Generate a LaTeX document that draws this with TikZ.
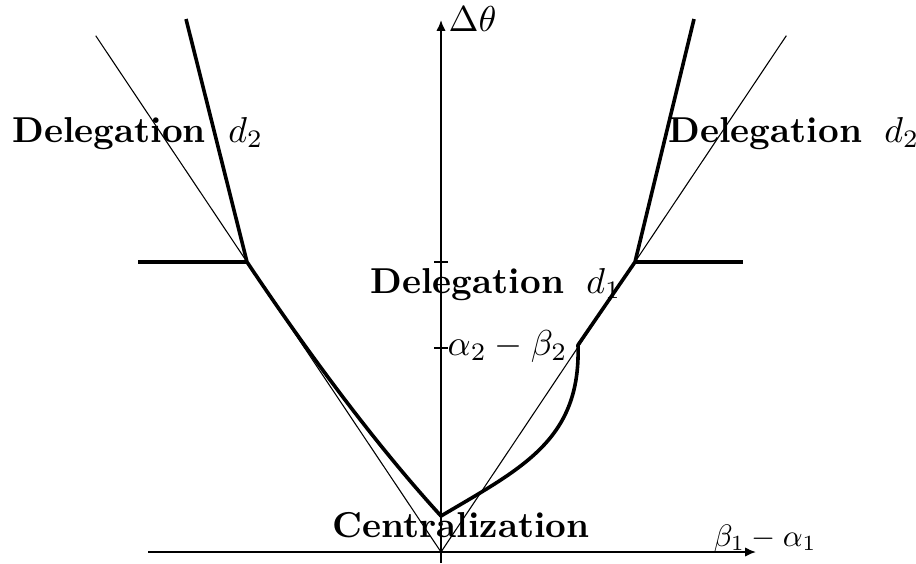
\documentclass[tikz,border=0pt]{standalone}
\usetikzlibrary{arrows.meta}
\begin{document}
\begin{tikzpicture}[x=0.27778pt,y=-0.27778pt,
  axis/.style={line width=0.55pt},
  guide/.style={line width=0.3pt},
  heavy/.style={line width=1pt,line join=round},
  lbl/.style={inner sep=0pt,anchor=base west},
  tip/.style={-{Latex[length=3pt,width=2.6pt]}}]
\useasboundingbox (0,0) rectangle (916,563);
% coordinates
\coordinate (O) at (441,552);
\coordinate (xs) at (148,552);
\coordinate (xe) at (756,552);
\coordinate (ys) at (441,563);
\coordinate (ye) at (441,20);
\coordinate (TL) at (95.7,35.7);
\coordinate (TR) at (786.3,35.7);
\coordinate (KL) at (247,262);
\coordinate (KR) at (635,262);
\coordinate (UL) at (186,19);
\coordinate (UR) at (694,19);
\coordinate (V) at (441,516);
\coordinate (C) at (578,345);
\coordinate (HL) at (138,262);
\coordinate (HR) at (743,262);
\coordinate (t1a) at (434,262);
\coordinate (t1b) at (448,262);
\coordinate (t2a) at (434,348);
\coordinate (t2b) at (448,348);
% axes
\draw[axis,tip] (xs) -- (xe);
\draw[axis,tip] (ys) -- (ye);
\draw[axis] (t1a) -- (t1b);
\draw[axis] (t2a) -- (t2b);
% guide lines
\draw[guide] (TL) -- (O) -- (TR);
% thick boundary
\draw[heavy] (UL) -- (KL) .. controls (312,359) and (378,447) .. (V)
  .. controls (522,468) and (581,440) .. (C) -- (KR) -- (UR);
\draw[heavy] (HL) -- (KL);
\draw[heavy] (KR) -- (HR);
% labels
\node[lbl] (dl) at (12,142) {\bfseries Delegation\hspace{2.4pt} $d_2$};
\node[lbl] (dr) at (668,142) {\bfseries Delegation\hspace{2.4pt} $d_2$};
\node[lbl] (d1) at (370,293) {\bfseries Delegation\hspace{2.4pt} $d_1$};
\node[lbl] (ab) at (447,355) {$\alpha_2-\beta_2$};
\node[lbl] (ce) at (332,537) {\bfseries Centralization};
\node[lbl,scale=0.86] (ba) at (713,546) {$\beta_1-\alpha_1$};
\node[lbl] (dt) at (448,31) {$\Delta\theta$};
\end{tikzpicture}
\end{document}
